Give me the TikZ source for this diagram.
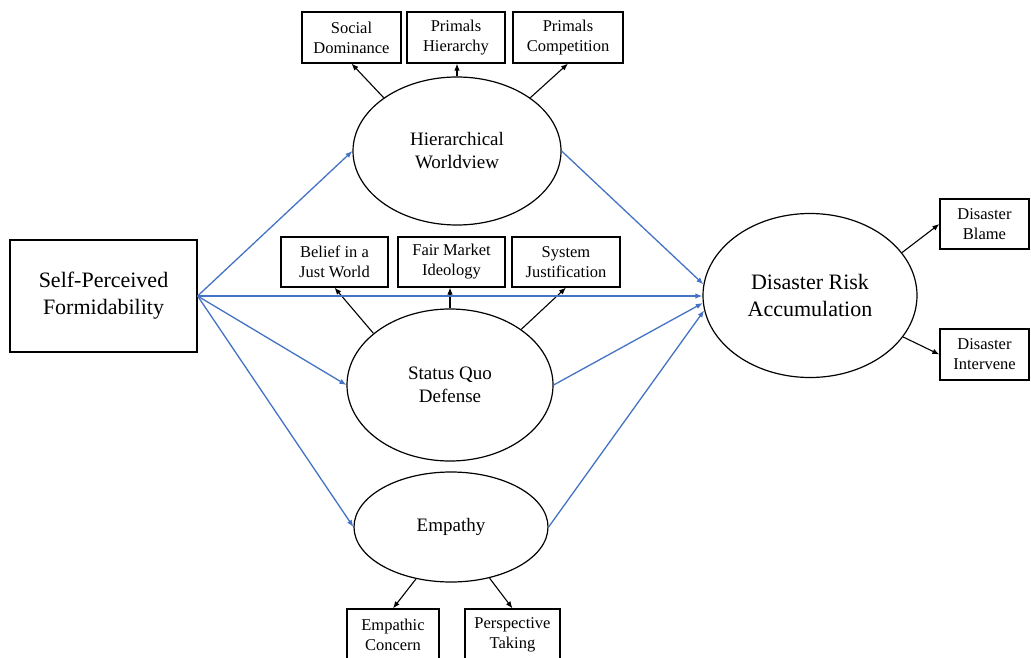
\documentclass[tikz,border=0pt]{standalone}
\usepackage{fontspec}
\setmainfont{Liberation Serif}
\usetikzlibrary{arrows.meta,shapes.geometric}
\definecolor{pathblue}{RGB}{68,114,196}
\tikzset{
  box/.style={draw=black, line width=1.2pt, rectangle, inner sep=0pt, align=center,
    font=\fontsize{16.5}{20}\selectfont},
  latent/.style={draw=black, line width=1.2pt, ellipse, inner sep=0pt, align=center,
    font=\fontsize{19}{23}\selectfont},
  big/.style={font=\fontsize{22}{27}\selectfont},
  load/.style={draw=black, line width=1.1pt, -{Latex[length=7pt,width=5.5pt]}},
  path/.style={draw=pathblue, line width=1.3pt, -{Latex[length=7pt,width=5.5pt]}},
}
\begin{document}
\begin{tikzpicture}[x=1pt,y=-1pt]
\useasboundingbox (0,0) rectangle (1031,658);
\clip (0,0) rectangle (1031,658);
% exogenous
\node[box, big, minimum width=187, minimum height=112] (spf) at (103.5,296) {Self-Perceived\\Formidability};
% latent factors
\node[latent, minimum width=208, minimum height=148] (hw) at (457,151) {Hierarchical\\Worldview};
\node[latent, minimum width=206, minimum height=152] (sq) at (450,385) {Status Quo\\Defense};
\node[latent, minimum width=194, minimum height=110] (em) at (451,527) {Empathy};
\node[latent, big, minimum width=214, minimum height=164] (dra) at (810,295.5) {Disaster Risk\\Accumulation};
% indicators
\node[box, minimum width=99, minimum height=51] (sd) at (351.5,37.5) {Social\\Dominance};
\node[box, minimum width=98, minimum height=51] (ph) at (456,37.5) {Primals\\Hierarchy};
\node[box, minimum width=110, minimum height=51] (pc) at (568,37.5) {Primals\\Competition};
\node[box, minimum width=107, minimum height=50] (bjw) at (334.5,262) {Belief in a\\Just World};
\node[box, minimum width=107, minimum height=50] (fmi) at (451.5,262) {Fair Market\\Ideology};
\node[box, minimum width=108, minimum height=50] (sj) at (566,262) {System\\Justification};
\node[box, minimum width=89, minimum height=50] (bl) at (984.5,224) {Disaster\\Blame};
\node[box, minimum width=89, minimum height=51] (iv) at (984.5,354.5) {Disaster\\Intervene};
\node[box, minimum width=92, minimum height=52] (ec) at (393,635) {Empathic\\Concern};
\node[box, minimum width=95, minimum height=52] (pt) at (512.5,635) {Perspective\\Taking};
% loadings
\draw[load] (hw.144) -- (sd.south);
\draw[load] (hw.north) -- (hw.north |- ph.south);
\draw[load] (hw.36) -- (pc.south);
\draw[load] (sq.146) -- (bjw.south);
\draw[load] (sq.north) -- (sq.north |- fmi.south);
\draw[load] (sq.38) -- (sj.south);
\draw[load] (em.236) -- (ec.north);
\draw[load] (em.307) -- (pt.north);
\draw[load] (dra.25) -- (bl.west);
\draw[load] (dra.336) -- (iv.west);
% structural paths
\draw[path] (spf.east) -- (hw.west);
\draw[path] (spf.east) -- (spf.east -| dra.west);
\draw[path] (spf.east) -- (sq.west);
\draw[path] (spf.east) -- (em.west);
\draw[path] (hw.east) -- (dra.174);
\draw[path] (sq.east) -- (dra.184);
\draw[path] (em.east) -- (dra.188);
\end{tikzpicture}
\end{document}
